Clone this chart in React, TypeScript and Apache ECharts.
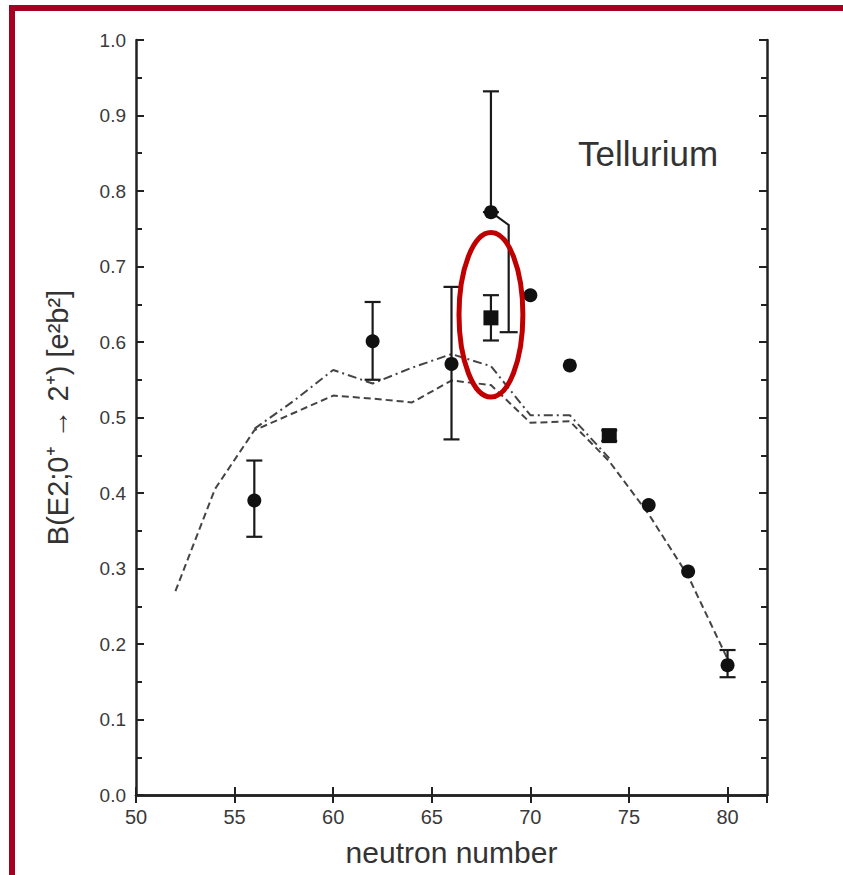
import React, { useEffect, useRef } from "react";
import * as echarts from "echarts";

// ---- data ----
const xMin = 50;
const xMax = 82;
const xInterval = 5;
const yMin = 0;
const yMax = 1.0;
const yInterval = 0.1;

// measured B(E2) values (circles)
const circlePoints: number[][] = [
  [56, 0.39],
  [62, 0.601],
  [66, 0.571],
  [68, 0.772],
  [70, 0.662],
  [72, 0.569],
  [76, 0.384],
  [78, 0.296],
  [80, 0.172],
];

// new measurements (squares)
const squarePoints: number[][] = [
  [68, 0.632],
  [74, 0.476],
];

// error bars: [N, low, high]
const errorBars: number[][] = [
  [56, 0.342, 0.443],
  [62, 0.55, 0.653],
  [66, 0.471, 0.673],
  [68, 0.772, 0.932],
  [68, 0.602, 0.662],
  [74, 0.469, 0.483],
  [80, 0.156, 0.192],
];

// lower error of the N=68 circle, drawn offset: [fromN, fromY, N, elbowY, low]
const offsetErrorBar: number[] = [68, 0.772, 68.9, 0.755, 0.613];

// theory curves
const dashedCurve: number[][] = [
  [52, 0.27],
  [54, 0.405],
  [56, 0.483],
  [58, 0.506],
  [60, 0.529],
  [62, 0.525],
  [64, 0.52],
  [66, 0.549],
  [68, 0.543],
  [70, 0.493],
  [72, 0.495],
  [74, 0.442],
  [76, 0.372],
  [78, 0.29],
  [80, 0.18],
];

const dashDotCurve: number[][] = [
  [56, 0.485],
  [58, 0.522],
  [60, 0.563],
  [62, 0.545],
  [64, 0.566],
  [66, 0.584],
  [68, 0.568],
  [70, 0.503],
  [72, 0.503],
  [74, 0.446],
];

// highlight ellipse: [centerN, centerY, radiusN, radiusY]
const highlight: number[] = [68, 0.636, 1.62, 0.109];

const xAxisName = "neutron number";
const yAxisName = "B(E2;0⁺ → 2⁺) [e²b²]";
const elementLabel = "Tellurium";

const FONT = "'Liberation Sans', Arial, Helvetica, sans-serif";
const INK = "#222222";
const RED = "#a50021";

const mkAxisLine = () => ({ show: true, lineStyle: { color: INK, width: 2.5 } });
const mkTick = () => ({ show: true, inside: true, length: 8, lineStyle: { color: INK, width: 2 } });
const mkMinor = () => ({ show: true, splitNumber: 2, length: 6, lineStyle: { color: INK, width: 2 } });

export default function App() {
  const ref = useRef<HTMLDivElement>(null);

  useEffect(() => {
    if (!ref.current) return;
    const chart = echarts.init(ref.current, undefined, { renderer: "svg" });

    const option: any = {
      animation: false,
      backgroundColor: "#ffffff",
      grid: { left: 136, right: 76, top: 40, bottom: 80, containLabel: false },
      graphic: [
        { type: "rect", shape: { x: 9, y: 5, width: 6, height: 875 }, style: { fill: RED } },
        { type: "rect", shape: { x: 9, y: 5, width: 843, height: 6 }, style: { fill: RED } },
        {
          type: "text",
          x: 578,
          y: 153,
          style: {
            text: elementLabel,
            font: `35px ${FONT}`,
            fill: "#333",
            verticalAlign: "middle",
            align: "left",
          },
        },
      ],
      xAxis: [
        {
          type: "value",
          min: xMin,
          max: xMax,
          interval: xInterval,
          position: "bottom",
          name: xAxisName,
          nameLocation: "middle",
          nameGap: 42,
          nameTextStyle: { fontSize: 30, color: "#333", fontFamily: FONT },
          axisLine: mkAxisLine(),
          axisTick: mkTick(),
          axisLabel: {
            showMaxLabel: false,
            fontSize: 20,
            color: "#3a3a3a",
            fontFamily: FONT,
            margin: 12,
            formatter: (v: number) => (v % 5 === 0 ? String(v) : ""),
          },
          splitLine: { show: false },
        },
        {
          type: "value",
          min: xMin,
          max: xMax,
          interval: xInterval,
          position: "top",
          axisLine: mkAxisLine(),
          axisTick: mkTick(),
          axisLabel: { show: false },
          splitLine: { show: false },
        },
      ],
      yAxis: [
        {
          type: "value",
          min: yMin,
          max: yMax,
          interval: yInterval,
          position: "left",
          name: yAxisName,
          nameLocation: "middle",
          nameGap: 64,
          nameTextStyle: { fontSize: 29, color: "#333", fontFamily: FONT },
          axisLine: mkAxisLine(),
          axisTick: mkTick(),
          minorTick: mkMinor(),
          axisLabel: {
            fontSize: 19,
            color: "#3a3a3a",
            fontFamily: FONT,
            margin: 10,
            formatter: (v: number) => v.toFixed(1),
          },
          splitLine: { show: false },
          minorSplitLine: { show: false },
        },
        {
          type: "value",
          min: yMin,
          max: yMax,
          interval: yInterval,
          position: "right",
          axisLine: mkAxisLine(),
          axisTick: mkTick(),
          minorTick: mkMinor(),
          axisLabel: { show: false },
          splitLine: { show: false },
          minorSplitLine: { show: false },
        },
      ],
      series: [
        {
          type: "line",
          data: dashedCurve,
          symbol: "none",
          lineStyle: { color: "#444", width: 2, type: [7, 4] },
          z: 2,
        },
        {
          type: "line",
          data: dashDotCurve,
          symbol: "none",
          lineStyle: { color: "#444", width: 2, type: [9, 4, 2, 4] },
          z: 2,
        },
        {
          type: "custom",
          data: errorBars,
          encode: { x: 0, y: [1, 2] },
          z: 3,
          renderItem: (params: any, api: any) => {
            const n = api.value(0);
            const lo = api.coord([n, api.value(1)]);
            const hi = api.coord([n, api.value(2)]);
            const w = 8;
            const st = { stroke: "#1a1a1a", lineWidth: 2.2 };
            return {
              type: "group",
              children: [
                { type: "line", shape: { x1: lo[0], y1: lo[1], x2: hi[0], y2: hi[1] }, style: st },
                { type: "line", shape: { x1: lo[0] - w, y1: lo[1], x2: lo[0] + w, y2: lo[1] }, style: st },
                { type: "line", shape: { x1: hi[0] - w, y1: hi[1], x2: hi[0] + w, y2: hi[1] }, style: st },
              ],
            };
          },
        },
        {
          type: "custom",
          data: [offsetErrorBar],
          encode: { x: 0, y: 1 },
          z: 3,
          renderItem: (params: any, api: any) => {
            const a = api.coord([api.value(0), api.value(1)]);
            const b = api.coord([api.value(2), api.value(3)]);
            const c = api.coord([api.value(2), api.value(4)]);
            const w = 9;
            const st = { stroke: "#1a1a1a", lineWidth: 2.2, fill: "none" };
            return {
              type: "group",
              children: [
                { type: "polyline", shape: { points: [a, b, c] }, style: st },
                { type: "line", shape: { x1: c[0] - w, y1: c[1], x2: c[0] + w, y2: c[1] }, style: st },
              ],
            };
          },
        },
        {
          type: "scatter",
          data: circlePoints,
          symbol: "circle",
          symbolSize: 14,
          itemStyle: { color: "#111", opacity: 1 },
          z: 5,
        },
        {
          type: "scatter",
          data: squarePoints,
          symbol: "rect",
          symbolSize: 15,
          itemStyle: { color: "#111", opacity: 1 },
          z: 5,
        },
        {
          type: "custom",
          data: [highlight],
          encode: { x: 0, y: 1 },
          z: 10,
          renderItem: (params: any, api: any) => {
            const c = api.coord([api.value(0), api.value(1)]);
            const s = api.size([api.value(2), api.value(3)]);
            return {
              type: "ellipse",
              shape: { cx: c[0], cy: c[1], rx: s[0], ry: s[1] },
              style: { fill: "none", stroke: "#c00000", lineWidth: 5 },
            };
          },
        },
      ],
    };

    chart.setOption(option);
    return () => chart.dispose();
  }, []);

  return (
    <div
      ref={ref}
      style={{ position: "fixed", left: 0, top: 0, width: 843, height: 875, background: "#fff" }}
    />
  );
}
